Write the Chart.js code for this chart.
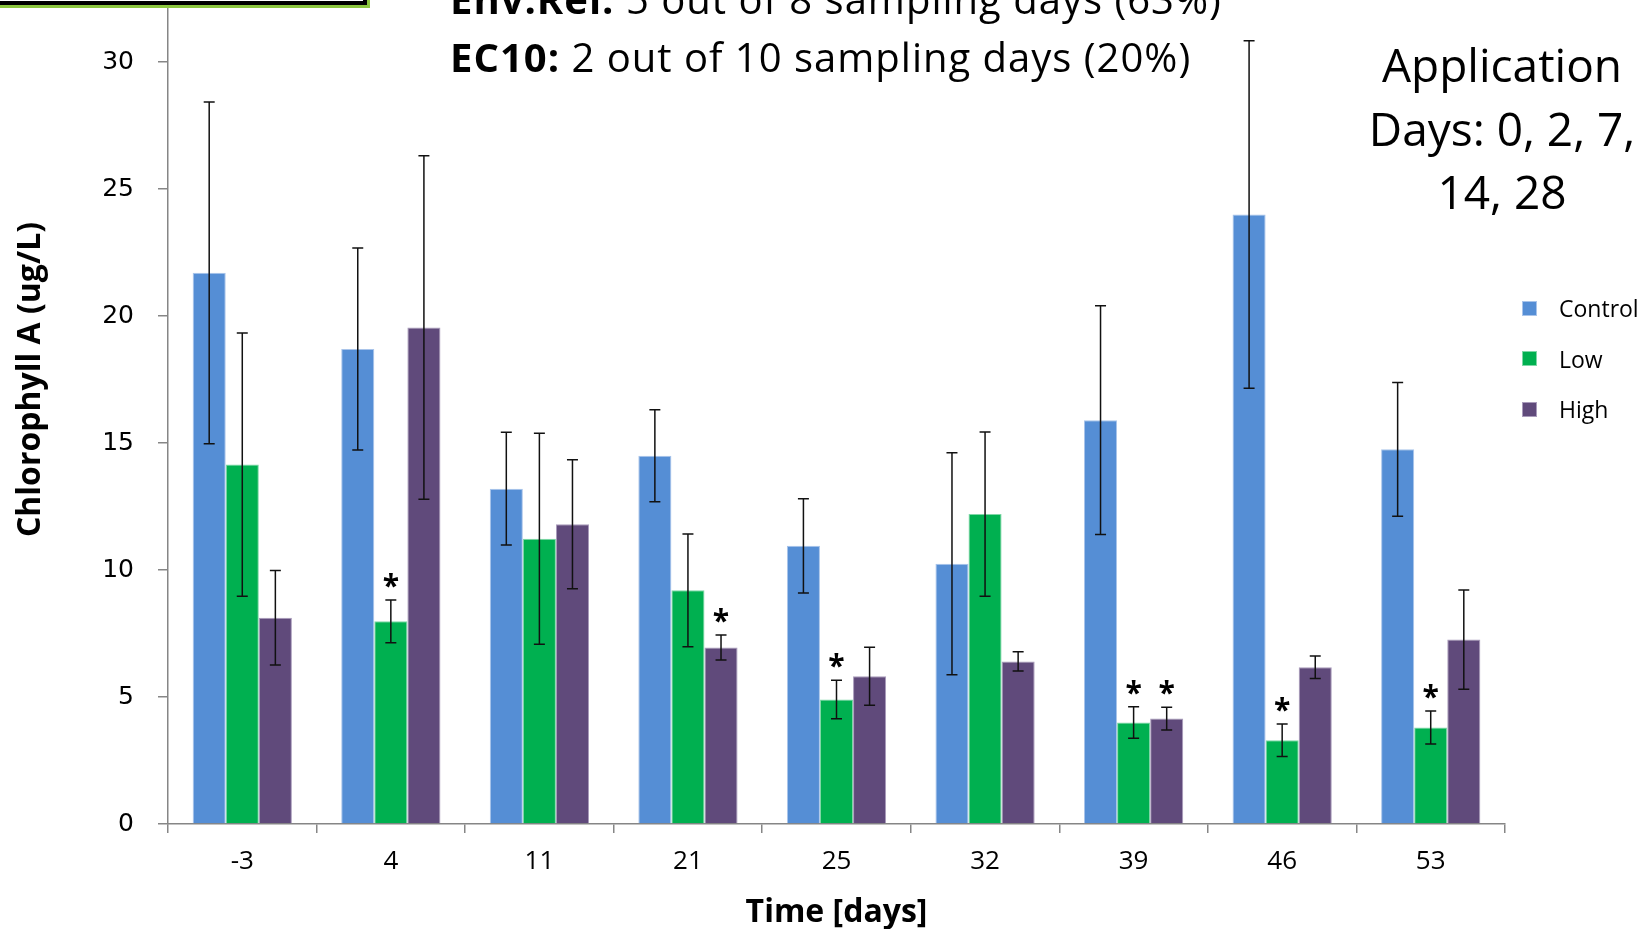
<!DOCTYPE html>
<html>
<head>
<meta charset="utf-8">
<script src="https://cdn.jsdelivr.net/npm/chart.js@4.4.1/dist/chart.umd.min.js"></script>
<style>
	html, body {
		margin: 0;
		padding: 0;
		width: 1652px;
		height: 929px;
		overflow: hidden;
		background: #fff;
		font-family: "Open Sans", sans-serif;
	}
	#stats-root {
		position: relative;
		width: 1652px;
		height: 929px;
		overflow: hidden;
	}
	#chart-chl {
		position: absolute;
		left: 0;
		top: -65px;
	}
	#green-box {
		position: absolute;
		left: -10px;
		top: -60px;
		width: 369px;
		height: 57px;
		border: 4px solid #000;
		outline: 3px solid #8cc63f;
		background: #fff;
	}
	#note {
		position: absolute;
		left: 450px;
		top: -30px;
		font-size: 40px;
		line-height: 58px;
		letter-spacing: 1px;
		white-space: nowrap;
		color: #000;
	}
	#note b {
		font-weight: bold;
	}
	#app-days {
		position: absolute;
		left: 1322px;
		width: 360px;
		top: 33px;
		font-size: 46px;
		line-height: 63.5px;
		text-align: center;
		color: #000;
		white-space: nowrap;
	}
	#legend {
		position: absolute;
		left: 1522px;
		top: 283px;
	}
	#legend .item {
		height: 50.5px;
		display: flex;
		align-items: center;
		font-size: 23px;
		color: #000;
	}
	#legend .box {
		width: 15px;
		height: 15px;
		margin-right: 22px;
		box-sizing: border-box;
	}
</style>
</head>
<body>
<div id="stats-root">
	<canvas id="chart-chl" width="1652" height="994"></canvas>
	<div id="green-box"></div>
	<div id="note">
		<b>Env.Rel:</b> 5 out of 8 sampling days (63%)<br>
		<b>EC10:</b> 2 out of 10 sampling days (20%)
	</div>
	<div id="app-days">Application<br>Days: 0, 2, 7,<br>14, 28</div>
	<div id="legend"></div>
</div>
<script>
"use strict";


const axisColor = "#868686";
const textColor = "#000";

// sampling days
const days = ["-3", "4", "11", "21", "25", "32", "39", "46", "53"];

// means and error (sd)
const controlMean = [21.7, 18.7, 13.2, 14.5, 10.95, 10.25, 15.9, 24.0, 14.75];
const controlErr = [6.73, 3.98, 2.22, 1.81, 1.86, 4.37, 4.5, 6.84, 2.63];
const lowMean = [14.15, 7.98, 11.23, 9.2, 4.9, 12.2, 4.0, 3.3, 3.8];
const lowErr = [5.18, 0.84, 4.15, 2.22, 0.76, 3.23, 0.62, 0.64, 0.65];
const highMean = [8.12, 19.55, 11.8, 6.95, 5.82, 6.4, 4.15, 6.17, 7.26];
const highErr = [1.86, 6.76, 2.54, 0.49, 1.14, 0.38, 0.45, 0.44, 1.95];

// significant difference to control (*)
const controlSig = [false, false, false, false, false, false, false, false, false];
const lowSig = [false, true, false, false, true, false, true, true, true];
const highSig = [false, false, false, true, false, false, true, false, false];

const seriesNames = ["Control", "Low", "High"];
const seriesColors = ["#558ed5", "#00b050", "#604a7b"];
const seriesBorders = ["#a9c4ea", "#7fd7a7", "#a99bbb"];


// draws the sd whiskers and the stars on top of every bar
const errorBars = {
	id: "errorBars",
	afterDatasetsDraw(chart) {
		const ctx = chart.ctx;
		const y = chart.scales.y;
		ctx.save();
		chart.data.datasets.forEach((set, i) => {
			const meta = chart.getDatasetMeta(i);
			meta.data.forEach((bar, j) => {
				const mean = set.data[j];
				const err = set.errors[j];
				const top = y.getPixelForValue(mean + err);
				const bottom = y.getPixelForValue(mean - err);
				const x = bar.x;

				ctx.strokeStyle = "#111";
				ctx.lineWidth = 1.5;
				ctx.beginPath();
				ctx.moveTo(x, top);
				ctx.lineTo(x, bottom);
				ctx.moveTo(x - 5.5, top);
				ctx.lineTo(x + 5.5, top);
				ctx.moveTo(x - 5.5, bottom);
				ctx.lineTo(x + 5.5, bottom);
				ctx.stroke();

				if (set.sig[j]) {
					ctx.fillStyle = "#000";
					ctx.font = "bold 30px 'Open Sans'";
					ctx.textAlign = "center";
					ctx.textBaseline = "alphabetic";
					ctx.fillText("*", x, top - 4);
				}
			});
		});
		ctx.restore();
	},
};


function build_legend(chart) {
	const root = document.getElementById("legend");
	chart.data.datasets.forEach(set => {
		const item = document.createElement("div");
		item.className = "item";
		const box = document.createElement("span");
		box.className = "box";
		box.style.background = set.backgroundColor;
		box.style.border = "1px solid " + set.borderColor;
		const label = document.createElement("span");
		label.textContent = set.label;
		item.appendChild(box);
		item.appendChild(label);
		root.appendChild(item);
	});
}


function setup_chart() {
	const ctx = document.getElementById("chart-chl").getContext("2d");

	const means = [controlMean, lowMean, highMean];
	const errs = [controlErr, lowErr, highErr];
	const sigs = [controlSig, lowSig, highSig];

	const data = {
		labels: days,
		datasets: seriesNames.map((name, i) => ({
			label: name,
			data: means[i],
			errors: errs[i],
			sig: sigs[i],
			backgroundColor: seriesColors[i],
			borderColor: seriesBorders[i],
			borderWidth: 1,
			categoryPercentage: 0.668,
			barPercentage: 1.0,
		})),
	};

	const config = {
		type: "bar",
		data: data,
		plugins: [errorBars],
		options: {
			responsive: false,
			animation: false,
			devicePixelRatio: 1,
			layout: {
				padding: { left: 0, right: 147, top: 0, bottom: 0 },
			},
			plugins: {
				legend: { display: false },
				tooltip: { enabled: false },
			},
			scales: {
				x: {
					offset: true,
					grid: {
						offset: true,
						drawOnChartArea: false,
						tickLength: 9,
						color: axisColor,
						lineWidth: 1.5,
					},
					border: {
						color: axisColor,
						width: 1.5,
					},
					ticks: {
						color: textColor,
						padding: 13,
						font: { family: "'Open Sans'", size: 26 },
					},
					title: {
						display: true,
						text: "Time [days]",
						color: textColor,
						padding: { top: 0, bottom: 0 },
						font: { family: "'Open Sans'", size: 32, weight: "bold", lineHeight: 1 },
					},
					afterFit(scale) {
						scale.height = 105;
						scale.paddingLeft = 0;
						scale.paddingRight = 0;
					},
				},
				y: {
					min: 0,
					max: 35,
					grid: {
						drawOnChartArea: false,
						tickLength: 10,
						color: axisColor,
						lineWidth: 1.5,
					},
					border: {
						color: axisColor,
						width: 1.5,
					},
					ticks: {
						stepSize: 5,
						color: textColor,
						padding: 24,
						font: { family: "'DejaVu Sans'", size: 25 },
					},
					afterBuildTicks(scale) {
						scale.ticks = scale.ticks.filter(t => t.value <= 30);
					},
					title: {
						display: true,
						text: "Chlorophyll A (ug/L)",
						color: textColor,
						padding: { top: 15, bottom: 0 },
						font: { family: "'Open Sans'", size: 32, weight: "bold", lineHeight: 1 },
					},
					afterFit(scale) {
						scale.width = 168;
						scale.paddingTop = 0;
						scale.paddingBottom = 0;
					},
				},
			},
		},
	};

	const chart = new Chart(ctx, config);
	build_legend(chart);
}


setup_chart();
</script>
</body>
</html>
